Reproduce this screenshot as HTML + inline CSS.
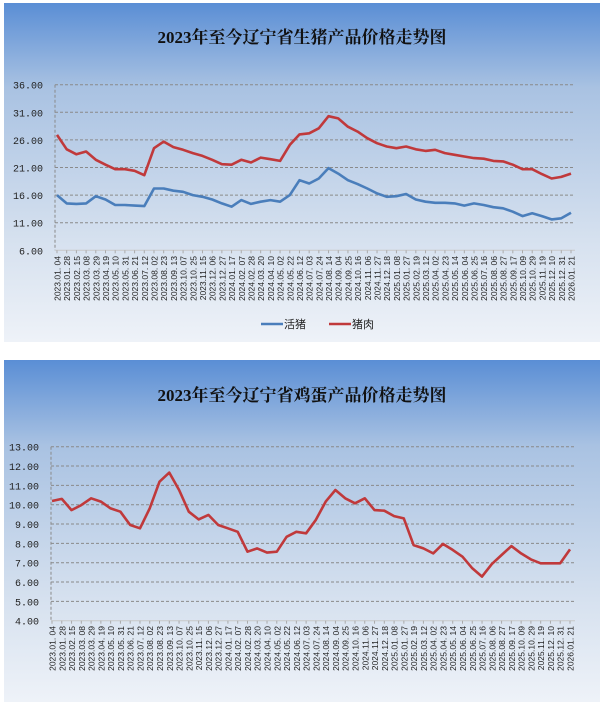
<!DOCTYPE html>
<html><head><meta charset="utf-8"><style>
html,body{margin:0;padding:0;background:#fff;width:603px;height:704px;overflow:hidden}
svg{display:block}
</style></head><body>
<svg id="svg" width="603" height="704" xmlns="http://www.w3.org/2000/svg">
<defs>
<linearGradient id="bg" x1="0" y1="0" x2="0" y2="1">
<stop offset="0" stop-color="#5a8ed5"/><stop offset="0.25" stop-color="#a9c2e2"/><stop offset="0.7" stop-color="#d6e1ef"/><stop offset="1" stop-color="#eef2f8"/>
</linearGradient>
</defs>
<rect x="4" y="3" width="596" height="339" fill="url(#bg)"/>
<rect x="4" y="360" width="596" height="342" fill="url(#bg)"/>
<text x="302" y="43" text-anchor="middle" font-family="'Liberation Serif','Noto Serif CJK SC',serif" font-size="17" font-weight="bold" fill="#111">2023年至今辽宁省生猪产品价格走势图</text>
<text x="302" y="401" text-anchor="middle" font-family="'Liberation Serif','Noto Serif CJK SC',serif" font-size="17" font-weight="bold" fill="#111">2023年至今辽宁省鸡蛋产品价格走势图</text>
<g id="top"></g><g id="bot"></g>
<g font-family="'Liberation Sans','Noto Sans CJK SC',sans-serif" font-size="11" fill="#222">
<line x1="261" y1="324" x2="283" y2="324" stroke="#4a7ebb" stroke-width="2.5"/>
<text x="284" y="328">活猪</text>
<line x1="329" y1="324" x2="351" y2="324" stroke="#c0393b" stroke-width="2.5"/>
<text x="352" y="328">猪肉</text>
</g>
</svg>
<script>
const labels = ["2023.01.04","2023.01.28","2023.02.15","2023.03.08","2023.03.29","2023.04.19","2023.05.10","2023.05.31","2023.06.21","2023.07.12","2023.08.02","2023.08.23","2023.09.13","2023.10.07","2023.10.25","2023.11.15","2023.12.06","2023.12.27","2024.01.17","2024.02.07","2024.02.28","2024.03.20","2024.04.10","2024.05.02","2024.05.22","2024.06.12","2024.07.03","2024.07.24","2024.08.14","2024.09.04","2024.09.25","2024.10.16","2024.11.06","2024.11.27","2024.12.18","2025.01.08","2025.01.27","2025.02.19","2025.03.12","2025.04.02","2025.04.23","2025.05.14","2025.06.04","2025.06.25","2025.07.16","2025.08.06","2025.08.27","2025.09.17","2025.10.09","2025.10.29","2025.11.19","2025.12.10","2025.12.31","2026.01.21"];
const livePig = [16.0,14.5,14.4,14.5,15.8,15.2,14.2,14.2,14.1,14.0,17.2,17.2,16.8,16.6,16.0,15.7,15.2,14.5,13.9,15.1,14.4,14.8,15.1,14.8,16.0,18.7,18.1,19.0,20.9,19.9,18.7,18.0,17.2,16.3,15.7,15.8,16.2,15.2,14.8,14.6,14.6,14.5,14.1,14.5,14.2,13.8,13.6,13.0,12.2,12.7,12.2,11.6,11.8,12.8];
const pork = [26.9,24.3,23.4,23.9,22.4,21.5,20.7,20.7,20.4,19.6,24.5,25.7,24.7,24.2,23.6,23.1,22.4,21.6,21.5,22.4,21.9,22.8,22.5,22.2,25.1,27.0,27.2,28.1,30.3,29.9,28.4,27.5,26.3,25.4,24.8,24.5,24.8,24.3,24.0,24.2,23.6,23.3,23.0,22.7,22.6,22.2,22.1,21.5,20.7,20.7,19.8,19.0,19.3,19.9];
const eggs = [10.19,10.3,9.72,9.98,10.33,10.16,9.81,9.64,8.95,8.78,9.81,11.19,11.66,10.76,9.64,9.24,9.47,8.95,8.78,8.60,7.57,7.74,7.52,7.57,8.34,8.60,8.52,9.22,10.16,10.76,10.33,10.07,10.33,9.72,9.69,9.41,9.29,7.91,7.74,7.48,7.97,7.66,7.31,6.71,6.28,6.93,7.40,7.86,7.48,7.17,6.97,6.97,6.97,7.69];
const topTicks = [6,11,16,21,26,31,36];
const botTicks = [4,5,6,7,8,9,10,11,12,13];

const NS="http://www.w3.org/2000/svg";
function mk(parent,tag,attrs){const e=document.createElementNS(NS,tag);for(const k in attrs)e.setAttribute(k,attrs[k]);parent.appendChild(e);return e;}

function chart(g, cfg){
  const {x0,x1,px0,px1,yTop,yBot,vMin,vMax,ticks,series,labY}=cfg;
  const n=labels.length;
  const xs=i=>px0+(px1-px0)*i/(n-1);
  const ys=v=>yBot-(v-vMin)/(vMax-vMin)*(yBot-yTop);
  ticks.forEach(t=>{
    if(t!==vMin){const l=mk(g,'line',{x1:x0,x2:x1,y1:ys(t),y2:ys(t),stroke:'#8a8a8a','stroke-width':1,'stroke-dasharray':'3,2'});
    
    }
    const tx=mk(g,'text',{x:x0-12,y:ys(t)+4,'text-anchor':'end','font-family':"'Liberation Mono',monospace",'font-size':10,fill:'#222'});
    tx.textContent=t.toFixed(2);
    
    
  });
  const ax=mk(g,'line',{x1:x0,x2:x0,y1:yTop,y2:yBot,stroke:'#8a8a8a','stroke-dasharray':'3,2'});
  
  
  const xa=mk(g,'line',{x1:x0,x2:x1,y1:yBot,y2:yBot,stroke:'#c8c8c8'});
  
  
  for(let i=0;i<n;i++){
    const x=xs(i);
    const tk=mk(g,'line',{x1:x,x2:x,y1:yBot,y2:yBot+3,stroke:'#aaa'});
    
    
    const tx=mk(g,'text',{x:0,y:0,transform:`translate(${x+3.5},${labY}) rotate(-90)`,'text-anchor':'end','font-family':"'Liberation Sans',sans-serif",'font-size':8.5,fill:'#222'});
    tx.textContent=labels[i].replace(/\./g,'. ').replace('. ','.');
    
    
  }
  series.forEach(s=>{
    const d=s.vals.map((v,i)=>(i?'L':'M')+xs(i).toFixed(1)+','+ys(v).toFixed(1)).join(' ');
    const p=mk(g,'path',{d,fill:'none',stroke:s.color,'stroke-width':2.6,'stroke-linejoin':'round'});
    
    
  });
}
chart(document.getElementById('top'),{x0:55,x1:575,px0:57,px1:571,yTop:84.7,yBot:250.3,vMin:6,vMax:36,ticks:topTicks,labY:256,
  series:[{vals:livePig,color:'#4a7ebb',name:'live-pig-line'},{vals:pork,color:'#c0393b',name:'pork-line'}]});
chart(document.getElementById('bot'),{x0:51,x1:575,px0:52,px1:570,yTop:446.7,yBot:620.7,vMin:4,vMax:13,ticks:botTicks,labY:626,
  series:[{vals:eggs,color:'#c0393b',name:'egg-price-line'}]});
</script>
</body></html>
